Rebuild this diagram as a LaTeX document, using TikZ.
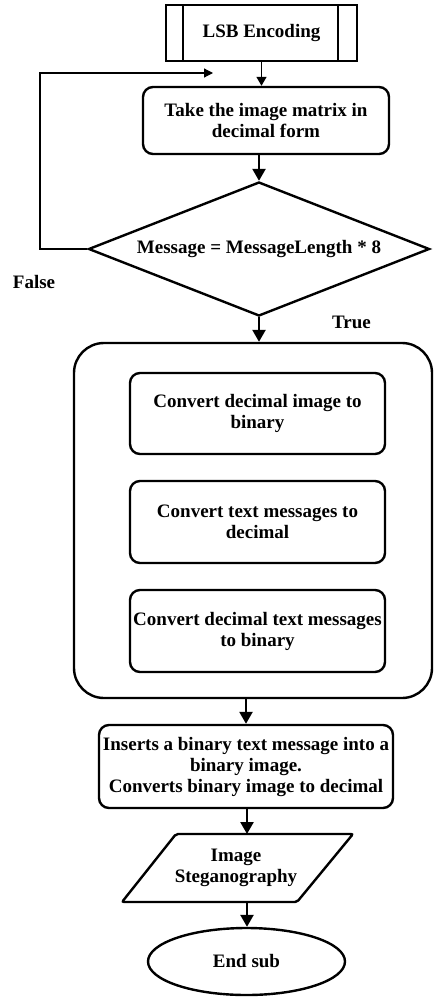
\documentclass[tikz,border=0pt]{standalone}
\usepackage{fontspec}
\setmainfont{Liberation Serif}
\usetikzlibrary{arrows.meta,shapes.geometric,calc}
\begin{document}
\begin{tikzpicture}[x=1pt,y=-1pt,
  txt/.style={font=\fontsize{19}{21}\selectfont\bfseries, align=center},
  procbox/.style={txt, draw, line width=2.4pt, rounded corners=10pt, inner sep=0pt},
  flow/.style={line width=2.5pt, -{Triangle[width=13pt,length=12pt]}},
  thinflow/.style={line width=1.5pt, -{Triangle[width=10pt,length=9pt]}}
]
\useasboundingbox (0,0) rectangle (434,998);
% start subroutine
\node[txt, draw, line width=1.8pt, minimum width=191pt, minimum height=56pt, inner sep=0pt] (lsb) at (261.5,33) {LSB Encoding};
\draw[line width=1.8pt] ([xshift=18pt]lsb.north west) -- ([xshift=18pt]lsb.south west);
\draw[line width=1.8pt] ([xshift=-20pt]lsb.north east) -- ([xshift=-20pt]lsb.south east);
% take matrix
\node[procbox, minimum width=246pt, minimum height=67pt] (take) at (266,120.5) {Take the image matrix in\\decimal form};
% decision
\node[txt, draw, diamond, line width=2.4pt, aspect=2.54, minimum width=341pt, minimum height=134pt, inner sep=0pt] (dec) at (259,249) {Message = MessageLength * 8};
\node[txt] (false) at (34,282) {False};
\node[txt] (true) at (351.5,322) {True};
% big container
\node[draw, line width=2.4pt, rounded corners=30pt, minimum width=358pt, minimum height=355pt, inner sep=0pt] (big) at (253,520.5) {};
\node[procbox, minimum width=255pt, minimum height=81pt] (c1) at (257.5,413.5) {Convert decimal image to\\binary};
\node[procbox, minimum width=255pt, minimum height=82pt] (c2) at (257.5,522) {Convert text messages to\\decimal};
\node[procbox, minimum width=255pt, minimum height=82pt] (c3) at (257.5,631) {Convert decimal text messages\\to binary};
% insert
\node[procbox, minimum width=294pt, minimum height=83pt] (ins) at (246,766.5) {Inserts a binary text message into a\\binary image.\\Converts binary image to decimal};
% parallelogram
\draw[line width=2.4pt, rounded corners=2pt] (122,902) -- (176,834) -- (353,834) -- (297,902) -- cycle;
\node[txt] (img) at (236,868) {Image\\Steganography};
\coordinate (imgtop) at (247,834);
\coordinate (imgbot) at (247,902);
% end
\node[txt, draw, ellipse, line width=2.4pt, minimum width=197pt, minimum height=67pt, inner sep=0pt] (endn) at (246.5,961.5) {End sub};
% connectors
\draw[thinflow] (lsb.south) -- (lsb.south |- take.north);
\draw[flow] (dec.north |- take.south) -- (dec.north);
\coordinate (loopa) at (40,249);
\coordinate (loopb) at (40,73);
\coordinate (loopend) at (213,73);
\draw[line width=1.2pt, -{Triangle[width=9pt,length=9pt]}] (dec.west) -- (loopa) -- (loopb) -- (loopend);
\draw[flow] (dec.south) -- (dec.south |- big.north);
\draw[flow] (ins.north |- big.south) -- (ins.north);
\draw[flow] (ins.south -| imgtop) -- (imgtop);
\draw[flow] (imgbot) -- (imgbot |- endn.north);
\end{tikzpicture}
\end{document}
